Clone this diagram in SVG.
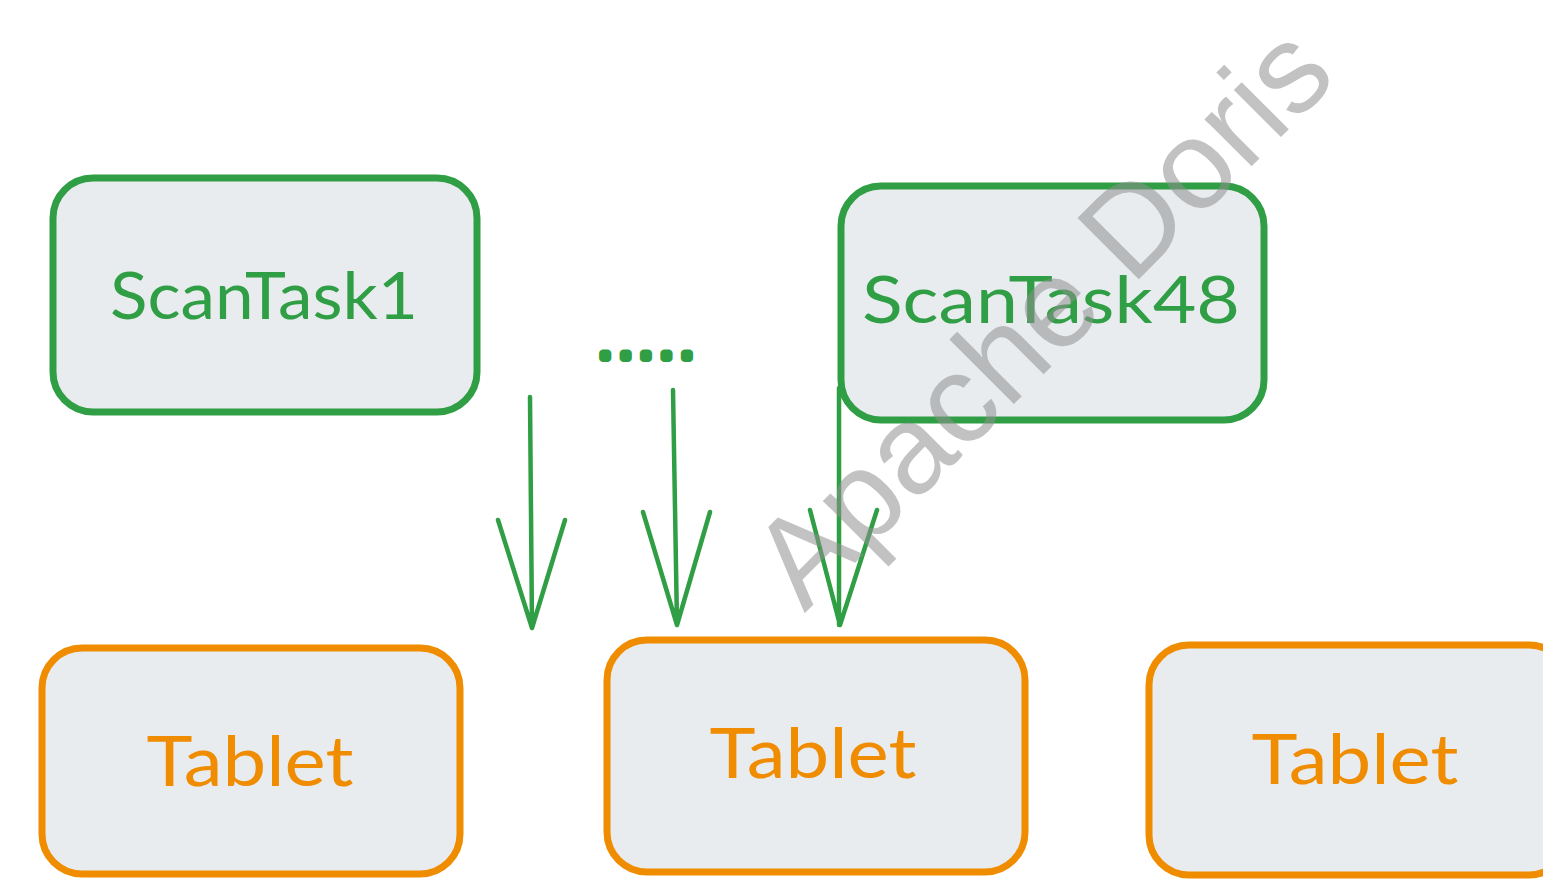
<svg xmlns="http://www.w3.org/2000/svg" width="1543" height="879" viewBox="0 0 1543 879">
  <style>
    .task rect { fill: #e9ecef; stroke: #2f9e44; stroke-width: 7; }
    .tablet rect { fill: #e9ecef; stroke: #f08c00; stroke-width: 7; }
    .label { font-family: "Lato", "Liberation Sans", sans-serif; text-anchor: middle; }
    .task text { fill: #2f9e44; font-size: 66px; }
    .tablet text { fill: #f08c00; font-size: 70px; }
    .edge { fill: none; stroke: #2f9e44; stroke-width: 4.5; stroke-linecap: round; stroke-linejoin: round; }
    .mark { font-family: "Liberation Sans", "Open Sans", sans-serif; font-size: 126px; fill: #8f8f8f; fill-opacity: 0.55; text-anchor: middle; }
  </style>
  <rect width="1543" height="879" fill="#ffffff"/>

  <!-- scan tasks -->
  <g id="scantask1" class="task">
    <rect x="53" y="178" width="424" height="234" rx="40"/>
    <text class="label" x="264" y="319" textLength="308" lengthAdjust="spacingAndGlyphs">ScanTask1</text>
  </g>
  <g id="scantask48" class="task">
    <rect x="841" y="186" width="423" height="234" rx="40"/>
    <text class="label" x="1051" y="323" textLength="378" lengthAdjust="spacingAndGlyphs">ScanTask48</text>
  </g>

  <!-- ellipsis between tasks: small glyphs, thick round stroke gives round dots -->
  <g id="ellipsis">
    <text x="601" y="358" font-family="Liberation Sans, sans-serif" font-weight="bold" font-size="30" fill="#2f9e44" stroke="#2f9e44" stroke-width="8" stroke-linejoin="round" textLength="90" lengthAdjust="spacing">.....</text>
  </g>

  <!-- tablets -->
  <g id="tablet1" class="tablet">
    <rect x="42" y="648" width="418" height="226" rx="40"/>
    <text class="label" x="250" y="786" textLength="207" lengthAdjust="spacingAndGlyphs">Tablet</text>
  </g>
  <g id="tablet2" class="tablet">
    <rect x="607" y="640" width="418" height="232" rx="40"/>
    <text class="label" x="813" y="778" textLength="207" lengthAdjust="spacingAndGlyphs">Tablet</text>
  </g>
  <g id="tablet3" class="tablet">
    <rect x="1149" y="645" width="420" height="230" rx="40"/>
    <text class="label" x="1355" y="784" textLength="207" lengthAdjust="spacingAndGlyphs">Tablet</text>
  </g>

  <!-- connectors -->
  <g id="connectors" class="edge">
    <path d="M530 397 L532 628 M498 520 L532 628 L565 520"/>
    <path d="M673 390 L677 625 M643 512 L677 625 L710 512"/>
    <path d="M839 388 L839 625 M810 510 L840 625 L877 510"/>
  </g>

  <!-- watermark -->
  <text class="mark" transform="translate(1072 346) rotate(-45)">Apache Doris</text>
</svg>
